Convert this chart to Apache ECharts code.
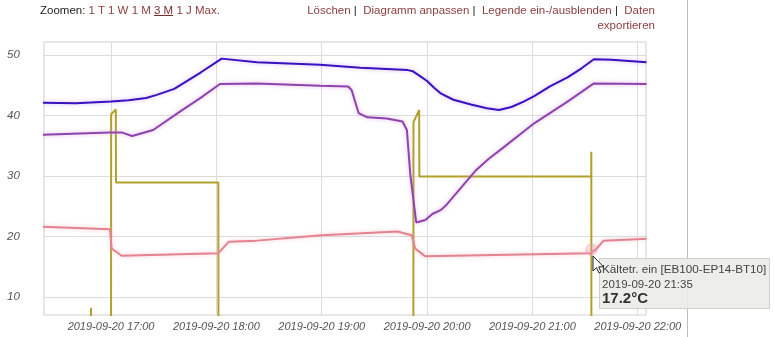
<!DOCTYPE html>
<html>
<head>
<meta charset="utf-8">
<script src="https://cdn.jsdelivr.net/npm/echarts@6/dist/echarts.min.js"></script>
<style>
  html,body{margin:0;padding:0;background:#fff;}
  body{width:774px;height:337px;position:relative;overflow:hidden;font-family:"Liberation Sans",Arial,sans-serif;}
  #chart{position:absolute;left:0;top:0;width:774px;height:337px;}
  .hdr{position:absolute;font-size:11.5px;line-height:15px;color:#222;white-space:nowrap;z-index:2;}
  .lk{color:#8c4040;}
  .u{text-decoration:underline;color:#7a2a2a;}
</style>
</head>
<body>
<div id="chart"></div>
<div class="hdr" style="left:40px;top:3px;">Zoomen: <span class="lk">1 T</span> <span class="lk">1 W</span> <span class="lk">1 M</span> <span class="u">3 M</span> <span class="lk">1 J</span> <span class="lk">Max.</span></div>
<div class="hdr" style="right:119px;top:3px;text-align:right;"><span class="lk">Löschen</span> | &nbsp;<span class="lk">Diagramm anpassen</span> | &nbsp;<span class="lk">Legende ein-/ausblenden</span> | &nbsp;<span class="lk">Daten</span><br><span class="lk">exportieren</span></div>
<script>
// ---- data ----
const blueTimes = ['16:21','16:40','17:00','17:10','17:20','17:26','17:36','17:51','18:03','18:23','18:59','19:22','19:49','19:52','19:56','20:00','20:04','20:08','20:15','20:25','20:34','20:41','20:48','20:55','21:01','21:10','21:20','21:28','21:35','21:45','22:05'];
const blueValues = [42.1,42.0,42.3,42.5,42.9,43.4,44.4,47.1,49.4,48.8,48.4,47.9,47.5,47.3,46.5,45.7,44.6,43.6,42.6,41.8,41.2,40.9,41.4,42.3,43.2,44.8,46.3,47.8,49.3,49.2,48.8];

const purpleTimes = ['16:21','16:59','17:06','17:12','17:24','17:39','17:51','18:02','18:23','18:59','19:15','19:17','19:21','19:26','19:37','19:46','19:48.5','19:50.4','19:53.8','19:59','20:03','20:08','20:11','20:28','20:35','20:43','21:01','21:20','21:27','21:35','22:05'];
const purpleValues = [36.8,37.2,37.2,36.6,37.6,40.6,42.9,45.2,45.3,44.9,44.8,44.2,40.4,39.7,39.5,39.0,37.6,30.4,22.3,22.7,23.7,24.4,25.2,31.0,32.8,34.6,38.7,42.3,43.7,45.3,45.2];

const pinkTimes = ['16:21','16:59.4','17:00.3','17:01.3','17:06','18:01','18:07','18:23','19:00','19:43','19:51.3','19:53.2','19:59','21:33','21:36.7','21:40.5','22:05'];
const pinkValues = [21.6,21.2,18.0,18.2,16.8,17.2,19.1,19.3,20.2,20.8,20.2,18.0,16.7,17.2,18.0,19.3,19.6];

const yellowTimes = ['16:21','16:48.5','16:48.6','16:48.7','17:00','17:00.05','17:02.7','17:02.8','18:01.1','18:01.2','19:52.2','19:52.25','19:55.5','19:55.6','21:33.5','21:33.55','21:33.6','22:05'];
const yellowValues = [0,0,8.2,0,0,40.2,41.0,28.9,28.9,0,0,38.9,40.9,29.9,29.9,34.0,0,0];

const hoverTime = ['21:33.6'];
const hoverValue = [17.8];

const xTicks = ['17:00','18:00','19:00','20:00','21:00','22:00'];
const xTickLabels = ['2019-09-20 17:00','2019-09-20 18:00','2019-09-20 19:00','2019-09-20 20:00','2019-09-20 21:00','2019-09-20 22:00'];
const yTicks = [10,20,30,40,50];

const tipTitle = 'Kältetr. ein [EB100-EP14-BT10]';
const tipTime = '2019-09-20 21:35';
const tipValue = '17.2°C';

// ---- helpers: x values are minutes since midnight ----
function T(s){const p=s.split(':');return Number(p[0])*60+parseFloat(p[1]);}
function pairs(ts,vs){return ts.map((t,i)=>[T(t),vs[i]]);}
const xTickVals = xTicks.map(T);

const chart = echarts.init(document.getElementById('chart'), null, {renderer:'canvas'});
const glow = c => ({shadowColor:c, shadowBlur:4});
chart.setOption({
  animation:false,
  backgroundColor:'transparent',
  grid:{left:44,right:128,top:42,bottom:22,show:true,borderColor:'#cfcfcf',borderWidth:1,containLabel:false},
  xAxis:{
    type:'value', min:T('16:21.8'), max:T('22:04.7'),
    axisLine:{show:false}, axisTick:{show:false, customValues:xTickVals},
    axisLabel:{customValues:xTickVals, formatter:(v)=>{const i=xTickVals.indexOf(v);return i>=0?xTickLabels[i]:'';},
      fontStyle:'italic', fontSize:11, color:'#555', margin:6, fontFamily:'Liberation Sans', hideOverlap:false},
    splitLine:{show:true, lineStyle:{color:'#dcdcdc', width:1}}
  },
  yAxis:{
    type:'value', min:7, max:52.15,
    axisLine:{show:false}, axisTick:{show:false, customValues:yTicks},
    axisLabel:{customValues:yTicks, fontStyle:'italic', fontSize:11.5, color:'#555', align:'left', margin:37, fontFamily:'Liberation Sans'},
    splitLine:{show:true, lineStyle:{color:'#dcdcdc', width:1}}
  },
  series:[
    {type:'line', name:'yellow', data:pairs(yellowTimes,yellowValues), showSymbol:false, lineStyle:{color:'#b3a02a', width:2}, z:2},
    {type:'line', name:'pink', data:pairs(pinkTimes,pinkValues), showSymbol:false, lineStyle:Object.assign({color:'#e5828f', width:2}, glow('rgba(240,160,180,0.6)')), z:3},
    {type:'line', name:'purple', data:pairs(purpleTimes,purpleValues), showSymbol:false, lineStyle:Object.assign({color:'#8f44ab', width:2}, glow('rgba(210,150,230,0.7)')), z:4},
    {type:'line', name:'blue', data:pairs(blueTimes,blueValues), showSymbol:false, lineStyle:Object.assign({color:'#3b12bf', width:2}, glow('rgba(190,150,240,0.7)')), z:5},
    {type:'scatter', data:pairs(hoverTime,hoverValue), symbolSize:11, itemStyle:{color:'rgba(240,150,170,0.4)', borderColor:'rgba(240,150,170,0.8)', borderWidth:1}, z:6}
  ],
  graphic:[
    {type:'line', shape:{x1:687.5,y1:0,x2:687.5,y2:337}, style:{stroke:'#bdbdbd', lineWidth:1}, z:1},
    {type:'rect', shape:{x:599.5,y:258.5,width:170,height:50}, style:{fill:'rgba(236,236,232,0.92)', stroke:'#cfcfcf', lineWidth:1}, z:50},
    {type:'text', x:602, y:270, style:{text:tipTitle, font:'11.7px "Liberation Sans"', fill:'#444', verticalAlign:'middle'}, z:51},
    {type:'text', x:602, y:285, style:{text:tipTime, font:'11.5px "Liberation Sans"', fill:'#444', verticalAlign:'middle'}, z:51},
    {type:'text', x:602, y:299, style:{text:tipValue, font:'bold 15px "Liberation Sans"', fill:'#333', verticalAlign:'middle'}, z:51},
    {type:'polygon', shape:{points:[[593,256],[593,271],[596.5,267.5],[599,273],[601,272],[598.7,266.8],[603.5,266.8]]}, style:{fill:'#fff', stroke:'#222', lineWidth:1}, z:60}
  ]
});
</script>
</body>
</html>
